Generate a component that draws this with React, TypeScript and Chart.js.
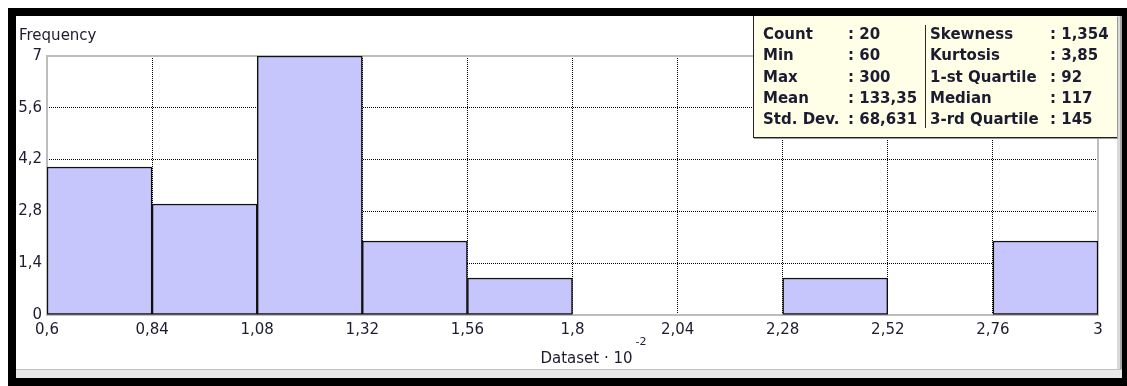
import { useEffect, useRef } from 'react';
import { Chart, registerables } from 'chart.js';

Chart.register(...registerables);

// Histogram bins (edges) and the count that falls in each bin
const binEdges = [0.6, 0.84, 1.08, 1.32, 1.56, 1.8, 2.04, 2.28, 2.52, 2.76, 3];
const frequencies = [4, 3, 7, 2, 1, 0, 0, 1, 0, 2];

// Axis tick labels (decimal comma)
const xTickLabels = ['0,6', '0,84', '1,08', '1,32', '1,56', '1,8', '2,04', '2,28', '2,52', '2,76', '3'];
const yTickLabels = ['0', '1,4', '2,8', '4,2', '5,6', '7'];

// Descriptive statistics shown in the summary box
const statsLeftNames = ['Count', 'Min', 'Max', 'Mean', 'Std. Dev.'];
const statsLeftValues = ['20', '60', '300', '133,35', '68,631'];
const statsRightNames = ['Skewness', 'Kurtosis', '1-st Quartile', 'Median', '3-rd Quartile'];
const statsRightValues = ['1,354', '3,85', '92', '117', '145'];

const TEXT_COLOR = '#1c1c30';
const FONT_FAMILY = '"DejaVu Sans", Tahoma, Verdana, sans-serif';

const framePlugin = {
  id: 'plotFrame',
  beforeDatasetsDraw(chart: any) {
    const { ctx, chartArea } = chart;
    const { left, top, right, bottom } = chartArea;
    ctx.save();
    ctx.strokeStyle = '#bdbdbd';
    ctx.lineWidth = 2;
    ctx.strokeRect(left, top, right - left, bottom - top);
    ctx.restore();
  },
};

const axisTitlesPlugin = {
  id: 'axisTitles',
  afterDraw(chart: any) {
    const { ctx, chartArea } = chart;
    ctx.save();
    ctx.fillStyle = TEXT_COLOR;
    ctx.textBaseline = 'alphabetic';
    ctx.textAlign = 'left';

    // y axis title in the upper-left corner
    ctx.font = `15px ${FONT_FAMILY}`;
    ctx.fillText('Frequency', 3, 24);

    // x axis title with a power-of-ten superscript
    const main = 'Dataset \u00b7 10';
    const sup = '-2';
    ctx.font = `15px ${FONT_FAMILY}`;
    const mw = ctx.measureText(main).width;
    ctx.font = `11px ${FONT_FAMILY}`;
    const sw = ctx.measureText(sup).width;
    const total = mw + 3 + sw;
    const cx = (chartArea.left + chartArea.right) / 2 + 21;
    const x0 = cx - total / 2;
    const base = chartArea.bottom + 48;
    ctx.font = `15px ${FONT_FAMILY}`;
    ctx.fillText(main, x0, base);
    ctx.font = `11px ${FONT_FAMILY}`;
    ctx.fillText(sup, x0 + mw + 3, base - 18);
    ctx.restore();
  },
};

export default function App() {
  const canvasRef = useRef<HTMLCanvasElement>(null);

  useEffect(() => {
    document.body.style.overflow = 'hidden';
    const canvas = canvasRef.current;
    if (!canvas) return;

    const points = frequencies.map((f, i) => ({
      x: (binEdges[i] + binEdges[i + 1]) / 2,
      y: f,
    }));

    const gridColor = (count: number) => (c: any) =>
      c.index === 0 || c.index === count - 1 ? 'rgba(0,0,0,0)' : '#000000';

    const chart = new Chart(canvas, {
      type: 'bar',
      data: {
        datasets: [
          {
            data: points as any,
            backgroundColor: (c: any) => (c.raw && c.raw.y > 0 ? '#c6c6fc' : 'rgba(0,0,0,0)'),
            borderColor: '#101010',
            borderWidth: (c: any) => (c.raw && c.raw.y > 0 ? 1.5 : 0),
            borderSkipped: false,
            barPercentage: 1,
            categoryPercentage: 1,
          } as any,
        ],
      },
      options: {
        responsive: false,
        animation: false,
        devicePixelRatio: 1,
        layout: { padding: { left: 0, right: 19, top: 40, bottom: 0 } },
        plugins: {
          legend: { display: false },
          tooltip: { enabled: false },
        },
        scales: {
          x: {
            type: 'linear',
            min: binEdges[0],
            max: binEdges[binEdges.length - 1],
            offset: false,
            afterFit: (s: any) => {
              s.height = 54;
            },
            ticks: {
              stepSize: 0.24,
              autoSkip: false,
              maxRotation: 0,
              padding: 6,
              color: TEXT_COLOR,
              font: { family: FONT_FAMILY, size: 15 },
              callback: (_v: any, i: number) => xTickLabels[i],
            },
            grid: {
              offset: false,
              color: gridColor(xTickLabels.length),
              lineWidth: 1,
              drawTicks: false,
              borderDash: [1, 1],
            } as any,
            border: { display: false, dash: [1, 1] },
          },
          y: {
            type: 'linear',
            min: 0,
            max: 7,
            afterFit: (s: any) => {
              s.width = 31;
            },
            ticks: {
              stepSize: 1.4,
              autoSkip: false,
              padding: 5,
              color: TEXT_COLOR,
              font: { family: FONT_FAMILY, size: 15 },
              callback: (_v: any, i: number) => yTickLabels[i],
            },
            grid: {
              offset: false,
              color: gridColor(yTickLabels.length),
              lineWidth: 1,
              drawTicks: false,
              borderDash: [1, 1],
            } as any,
            border: { display: false, dash: [1, 1] },
          },
        },
      } as any,
      plugins: [framePlugin, axisTitlesPlugin],
    });

    return () => chart.destroy();
  }, []);

  const rowTop = (i: number) => 8 + i * 21.3;
  const statText: React.CSSProperties = {
    position: 'absolute',
    height: 21,
    lineHeight: '21px',
    whiteSpace: 'pre',
    fontFamily: FONT_FAMILY,
    fontWeight: 'bold',
    fontSize: 15,
    color: TEXT_COLOR,
  };

  return (
    <div
      style={{
        position: 'fixed',
        left: 8,
        top: 8,
        right: 0,
        bottom: 0,
        background: '#000',
        overflow: 'hidden',
      }}
    >
      <div
        style={{
          position: 'absolute',
          left: 8,
          top: 8,
          width: 1106,
          height: 362,
          background: '#fff',
          overflow: 'hidden',
        }}
      >
        <canvas
          ref={canvasRef}
          width={1101}
          height={353}
          style={{ position: 'absolute', left: 0, top: 0, width: 1101, height: 353 }}
        />
        <div
          style={{
            position: 'absolute',
            left: 0,
            top: 353,
            width: 1106,
            height: 9,
            boxSizing: 'border-box',
            background: '#e9e9e9',
            borderTop: '1px solid #c2c2c2',
          }}
        />
        <div
          style={{
            position: 'absolute',
            left: 1101,
            top: 0,
            width: 5,
            height: 353,
            boxSizing: 'border-box',
            background: '#dadada',
            borderRight: '2px solid #a6a6a6',
          }}
        />
        <div
          style={{
            position: 'absolute',
            left: 737,
            top: 0,
            width: 364,
            height: 122,
            boxSizing: 'border-box',
            background: '#ffffe8',
            borderLeft: '1px solid #222',
            borderBottom: '1px solid #222',
            boxShadow: '1px 1px 0 #9a9a9a',
          }}
        >
          {statsLeftNames.map((name, i) => (
            <div key={'ln' + i}>
              <span style={{ ...statText, left: 9, top: rowTop(i) }}>{name}</span>
              <span style={{ ...statText, left: 94, top: rowTop(i) }}>{': ' + statsLeftValues[i]}</span>
            </div>
          ))}
          <div
            style={{
              position: 'absolute',
              left: 171,
              top: 9,
              width: 1,
              height: 103,
              background: '#2a2a2a',
            }}
          />
          {statsRightNames.map((name, i) => (
            <div key={'rn' + i}>
              <span style={{ ...statText, left: 176, top: rowTop(i) }}>{name}</span>
              <span style={{ ...statText, left: 296, top: rowTop(i) }}>{': ' + statsRightValues[i]}</span>
            </div>
          ))}
        </div>
      </div>
    </div>
  );
}
